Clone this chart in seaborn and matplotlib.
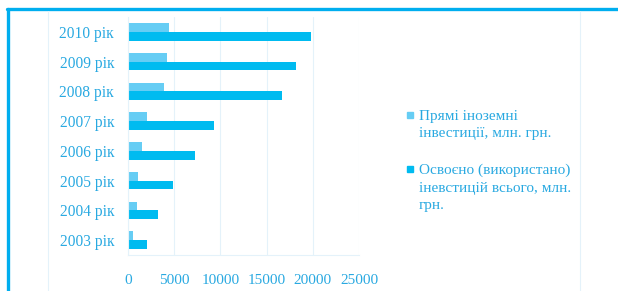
import matplotlib
matplotlib.use("Agg")
import matplotlib.pyplot as plt
from matplotlib.lines import Line2D
import seaborn as sns
import pandas as pd

# Values (mln. UAH)
years = ["2010 рік", "2009 рік", "2008 рік", "2007 рік",
         "2006 рік", "2005 рік", "2004 рік", "2003 рік"]
foreign_direct = [4460, 4250, 3860, 2020, 1510, 1050, 970, 540]
total_invested = [19820, 18130, 16720, 9330, 7210, 4900, 3280, 2050]
series_names = ["Прямі іноземні\nінвестиції, млн. грн.",
                "Освоєно (використано)\nіневстицій всього, млн.\nгрн."]
x_ticks = [0, 5000, 10000, 15000, 20000, 25000]

light_blue = "#66cdf4"
deep_blue = "#00bbf0"
text_blue = "#29a9e1"
faint = "#e4f2fa"

df = pd.DataFrame({
    "year": years * 2,
    "value": foreign_direct + total_invested,
    "series": [series_names[0]] * len(years) + [series_names[1]] * len(years),
})

sns.set_style("white")
plt.rcParams["font.family"] = ["Liberation Serif", "DejaVu Serif"]

fig = plt.figure(figsize=(6.18, 2.91), dpi=100)
ax = fig.add_axes([128 / 618, 1 - 255 / 291, 231 / 618, 238 / 291])

sns.barplot(data=df, y="year", x="value", hue="series", order=years,
            hue_order=series_names, palette=[light_blue, deep_blue],
            orient="h", width=0.58, saturation=1, linewidth=0,
            legend=False, ax=ax)

ax.set_xlim(0, 25000)
ax.set_ylim(len(years) - 0.5, -0.5)
ax.set_xticks(x_ticks)
ax.set_xticklabels([str(t) for t in x_ticks])
ax.set_xlabel("")
ax.set_ylabel("")
ax.grid(axis="x", color=faint, linewidth=0.8)
ax.set_axisbelow(True)

# small tick marks between categories, labels centred on bars
ax.set_yticks([i + 0.5 for i in range(-1, len(years))], minor=True)
ax.tick_params(axis="y", which="major", length=0, pad=10,
               labelsize=11.2, labelcolor=text_blue)
ax.tick_params(axis="y", which="minor", length=4, color=faint, direction="out")
ax.tick_params(axis="x", length=4, color=faint, direction="out", pad=10,
               labelsize=11, labelcolor=text_blue)

for side in ["top", "right"]:
    ax.spines[side].set_visible(False)
for side in ["left", "bottom"]:
    ax.spines[side].set_color(faint)
    ax.spines[side].set_linewidth(0.8)

# legend on the right, markers aligned with first line of each label
handles = [Line2D([], [], marker="s", linestyle="", markersize=5,
                  color=c) for c in [light_blue, deep_blue]]
leg = fig.legend(handles, series_names, loc="upper left",
                 bbox_to_anchor=(398 / 618, 1 - 102 / 291), frameon=False,
                 fontsize=11, labelcolor=text_blue, handlelength=0.6,
                 handletextpad=0.25, labelspacing=1.55, borderpad=0)
for t in leg.get_texts():
    t.set_linespacing(1.45)
for hp in leg._legend_handle_box.get_children()[0].get_children():
    hp.align = "top"

# outer frame: thick top and left border, faint inner panel lines
fig.add_artist(Line2D([7 / 618, 1], [1 - 8.5 / 291] * 2, color="#00aeef",
                      linewidth=2.4, transform=fig.transFigure))
fig.add_artist(Line2D([8 / 618] * 2, [0, 1 - 8.5 / 291], color="#00aeef",
                      linewidth=2.4, transform=fig.transFigure))
for xpos in [48, 580]:
    fig.add_artist(Line2D([xpos / 618] * 2, [0, 1 - 11 / 291], color=faint,
                          linewidth=0.8, transform=fig.transFigure))

fig.savefig("out.png", dpi=100)
